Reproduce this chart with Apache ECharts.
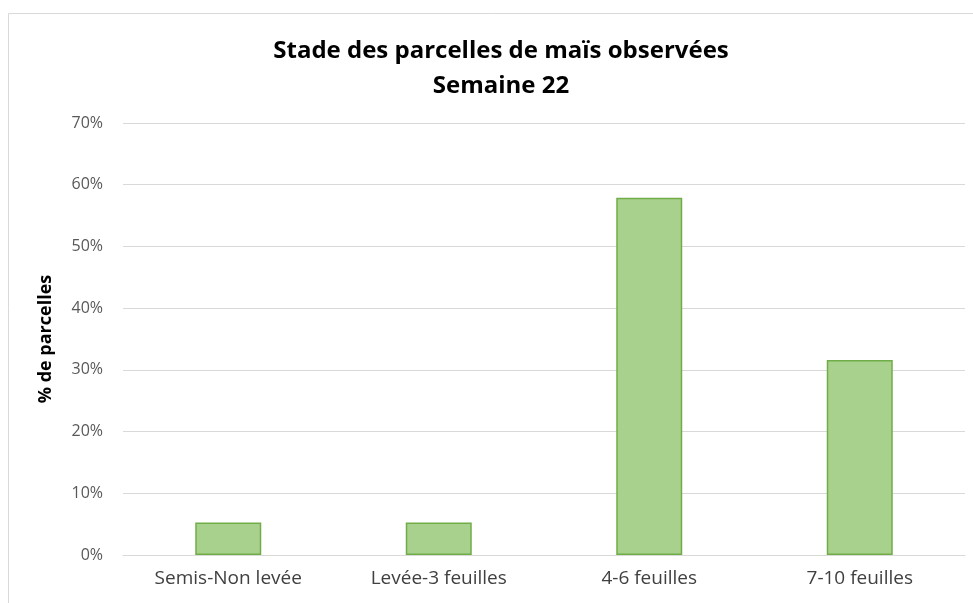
<!DOCTYPE html>
<html>
<head>
<meta charset="utf-8">
<title>Stade des parcelles de maïs observées</title>
<script src="https://cdn.jsdelivr.net/npm/echarts@6/dist/echarts.min.js"></script>
<style>
html,body{margin:0;padding:0;background:#fff;}
#main{width:973px;height:603px;}
</style>
</head>
<body>
<div id="main"></div>
<script>
// données
var categories = ["Semis-Non levée", "Levée-3 feuilles", "4-6 feuilles", "7-10 feuilles"];
var valeurs = [5.26, 5.26, 57.89, 31.58];
var titre = "Stade des parcelles de maïs observées\nSemaine 22";
var axeY = "% de parcelles";

var police = "'Open Sans', 'Noto Sans', sans-serif";
var chart = echarts.init(document.getElementById("main"));
chart.setOption({
	animation: false,
	title: {
		text: titre,
		left: 496,
		top: 29,
		textAlign: "center",
		textStyle: {fontFamily: police, fontSize: 24, fontWeight: "bold", color: "#000", lineHeight: 35}
	},
	graphic: [{
		type: "rect",
		shape: {x: 8.5, y: 13.5, width: 980, height: 620},
		style: {fill: null, stroke: "#D9D9D9", lineWidth: 1},
		silent: true
	}],
	grid: {left: 123, right: 8, top: 123, bottom: 48},
	xAxis: {
		type: "category",
		data: categories,
		axisTick: {show: false},
		axisLine: {lineStyle: {color: "#D9D9D9", width: 1}},
		axisLabel: {fontFamily: police, fontSize: 19, color: "#404040", margin: 14}
	},
	yAxis: {
		type: "value",
		min: 0,
		max: 70,
		interval: 10,
		name: axeY,
		nameLocation: "middle",
		nameGap: 68,
		nameTextStyle: {fontFamily: police, fontSize: 18, fontWeight: "bold", color: "#000"},
		axisLine: {show: false},
		axisTick: {show: false},
		splitLine: {lineStyle: {color: "#D9D9D9", width: 1}},
		axisLabel: {fontFamily: police, fontSize: 16, color: "#595959", margin: 20, formatter: "{value}%"}
	},
	series: [{
		type: "bar",
		data: valeurs,
		barWidth: 66,
		itemStyle: {color: "#A9D18E", borderColor: "#70AD47", borderWidth: 1.5}
	}]
});
</script>
</body>
</html>
